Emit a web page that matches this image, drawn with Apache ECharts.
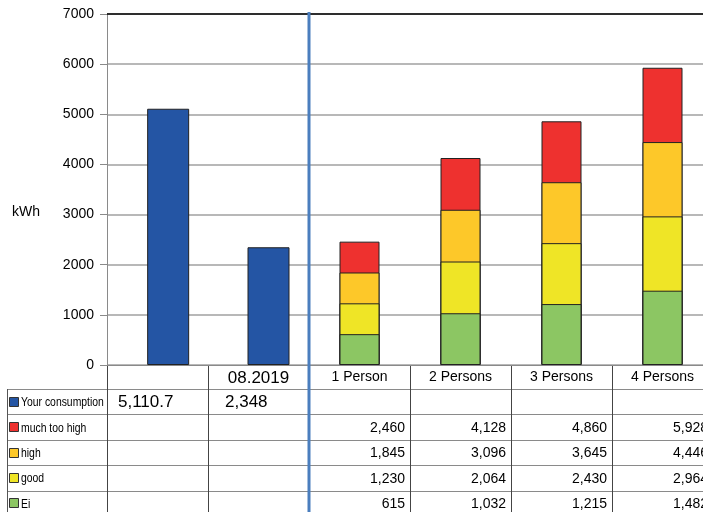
<!DOCTYPE html>
<html>
<head>
<meta charset="utf-8">
<script src="https://cdn.jsdelivr.net/npm/echarts@6/dist/echarts.min.js"></script>
<style>html,body{margin:0;padding:0;background:#fff;overflow:hidden;width:703px;height:512px;}#c{width:720px;height:512px;}</style>
</head>
<body>
<div id="c"></div>
<script>
// ---- data ----
var categories = ['', '08.2019', '1 Person', '2 Persons', '3 Persons', '4 Persons'];
var seriesNames = ['Your consumption', 'much too high', 'high', 'good', 'Ei'];
var yourConsumption = [5110.7, 2348, null, null, null, null];
var muchTooHigh = [null, null, 2460, 4128, 4860, 5928];
var high = [null, null, 1845, 3096, 3645, 4446];
var good = [null, null, 1230, 2064, 2430, 2964];
var ei = [null, null, 615, 1032, 1215, 1482];
var yTicks = [0, 1000, 2000, 3000, 4000, 5000, 6000, 7000];

// ---- style ----
var colors = ['#2455a4', '#ee312f', '#fdc829', '#efe526', '#8cc663'];
var GL = 107, GT = 14, GW = 606, GH = 351;
var catW = GW / categories.length;
var FONT = "'Liberation Sans', Arial, sans-serif";

var chart = echarts.init(document.getElementById('c'));

var seriesData = [yourConsumption, muchTooHigh, high, good, ei];

var graphics = [];
// kWh label
graphics.push({type: 'text', left: 12, top: 205, style: {text: 'kWh', font: '14px ' + FONT, fill: '#000'}});
// top black line
graphics.push({type: 'line', shape: {x1: GL, y1: GT, x2: GL + GW, y2: GT}, style: {stroke: '#000', lineWidth: 1.5}, z: 10});

// table
var rowTop = 389, rowH = 25.4, nRows = seriesNames.length;
var tableBottom = 520;
var tableLeft = 7;
for (var r = 0; r <= nRows; r++) {
  var y = Math.round(rowTop + r * rowH) + 0.5;
  graphics.push({type: 'line', shape: {x1: tableLeft, y1: y, x2: GL + GW, y2: y}, style: {stroke: '#8a8a8a', lineWidth: 1}});
}
graphics.push({type: 'line', shape: {x1: tableLeft + 0.5, y1: rowTop, x2: tableLeft + 0.5, y2: tableBottom}, style: {stroke: '#555', lineWidth: 1}});
for (var c = 0; c <= categories.length; c++) {
  var x = Math.round(GL + c * catW) + 0.5;
  if (c === 2) continue;
  graphics.push({type: 'line', shape: {x1: x, y1: GT + GH, x2: x, y2: tableBottom}, style: {stroke: '#444', lineWidth: 1}});
}
// blue separator line
var sepX = GL + 2 * catW;
graphics.push({type: 'line', shape: {x1: sepX, y1: 12, x2: sepX, y2: 512}, style: {stroke: '#4a7ebe', lineWidth: 3}, z: 20});

// legend column + values
for (var r2 = 0; r2 < nRows; r2++) {
  var cy = rowTop + r2 * rowH + rowH / 2;
  graphics.push({type: 'rect', shape: {x: 9.5, y: Math.round(cy - 5) + 0.5, width: 9, height: 9}, style: {fill: colors[r2], stroke: '#333', lineWidth: 1}});
  graphics.push({type: 'text', x: 21, y: cy + 1, scaleX: 0.8, style: {text: seriesNames[r2], font: '13px ' + FONT, fill: '#000', textVerticalAlign: 'middle', verticalAlign: 'middle'}});
  var arr = seriesData[r2];
  for (var c2 = 0; c2 < categories.length; c2++) {
    if (arr[c2] == null) continue;
    var txt = arr[c2].toLocaleString('en-US');
    if (r2 === 0) {
      graphics.push({type: 'text', x: GL + c2 * catW + (c2 === 0 ? 11 : 17), y: cy + 1, style: {text: txt, font: '17px ' + FONT, fill: '#000', textAlign: 'left', align: 'left', textVerticalAlign: 'middle', verticalAlign: 'middle'}});
    } else {
      graphics.push({type: 'text', x: GL + (c2 + 1) * catW - 5, y: cy + 1, style: {text: txt, font: '14px ' + FONT, fill: '#000', textAlign: 'right', align: 'right', textVerticalAlign: 'middle', verticalAlign: 'middle'}});
    }
  }
}

var stackSeries = [];
for (var i = 1; i < seriesNames.length; i++) {
  stackSeries.push({
    name: seriesNames[i], type: 'bar', xAxisIndex: 0, yAxisIndex: 0,
    data: seriesData[i], barWidth: 40, barGap: '-100%',
    itemStyle: {color: colors[i], borderColor: '#222', borderWidth: 1},
    z: 2 + i
  });
}

chart.setOption({
  animation: false,
  grid: [
    {left: GL, top: GT, width: GW, height: GH},
    {left: GL + 11, top: GT, width: GW, height: GH}
  ],
  xAxis: [
    {type: 'category', gridIndex: 0, data: categories,
     axisLine: {lineStyle: {color: '#8a8a8a', width: 1}}, axisTick: {show: false},
     axisLabel: {margin: 5, color: '#000', fontFamily: FONT, fontSize: 14, interval: 0,
       formatter: function (v) { return v === '08.2019' ? '{big|' + v + '}' : v; },
       rich: {big: {fontSize: 17, fontFamily: FONT, color: '#000'}}}},
    {type: 'category', gridIndex: 1, data: categories, show: false}
  ],
  yAxis: [
    {type: 'value', gridIndex: 0, min: 0, max: 7000, interval: 1000,
     axisLine: {show: true, lineStyle: {color: '#8a8a8a'}},
     axisTick: {show: true, length: 7, lineStyle: {color: '#8a8a8a'}},
     axisLabel: {margin: 13, color: '#000', fontFamily: FONT, fontSize: 14,
       formatter: function (v) { return yTicks.indexOf(v) >= 0 ? String(v) : ''; }},
     splitLine: {show: true, lineStyle: {color: '#a0a0a0', width: 1.5}}},
    {type: 'value', gridIndex: 1, min: 0, max: 7000, interval: 1000, show: false, splitLine: {show: false}}
  ],
  series: [{
    name: seriesNames[0], type: 'bar', xAxisIndex: 1, yAxisIndex: 1,
    data: yourConsumption, barWidth: 42,
    itemStyle: {color: colors[0], borderColor: '#222', borderWidth: 1}
  }].concat(stackSeries),
  graphic: graphics
});
</script>
</body>
</html>
